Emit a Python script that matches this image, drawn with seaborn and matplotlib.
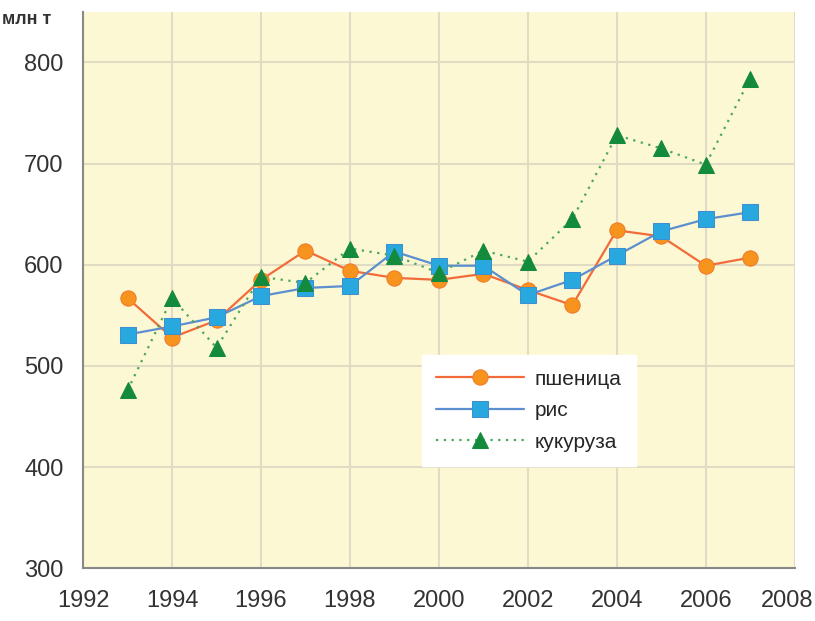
import matplotlib
matplotlib.use("Agg")
import matplotlib.pyplot as plt
import matplotlib.transforms as mtransforms
import seaborn as sns
import pandas as pd

years = list(range(1993, 2008))
wheat = [567, 528, 545, 585, 614, 594, 587, 585, 591, 575, 560, 634, 628, 599, 607]
rice = [531, 539, 548, 569, 577, 579, 613, 599, 599, 570, 585, 609, 633, 645, 652]
maize = [476, 567, 518, 588, 582, 616, 609, 592, 614, 603, 645, 728, 715, 699, 784]
labels = ["пшеница", "рис", "кукуруза"]

sns.set_style("white")
plt.rcParams["font.family"] = ["Liberation Sans Narrow", "Liberation Sans", "DejaVu Sans"]

fig = plt.figure(figsize=(8.15, 6.21), dpi=100)
ax = fig.add_axes([0.102, 0.085, 0.873, 0.896])
ax.set_facecolor("#fdf8d4")

styles = [
    dict(color="#f26b3a", marker="o", markerfacecolor="#f7941d", markeredgecolor="#f07a2a", linestyle="-", ms=11),
    dict(color="#5b8fd0", marker="s", markerfacecolor="#29a8e0", markeredgecolor="#3d8fd0", linestyle="-", ms=11),
    dict(color="#4ca75a", marker="^", markerfacecolor="#138a3c", markeredgecolor="#138a3c", linestyle=(0, (1, 2.5)), ms=12),
]
for vals, lab, st in zip([wheat, rice, maize], labels, styles):
    df = pd.DataFrame({"year": years, "value": vals})
    sns.lineplot(data=df, x="year", y="value", ax=ax, label=lab, lw=1.6, zorder=3, **st)

ax.set_xlim(1992, 2008)
ax.set_ylim(300, 850)
ax.set_xticks(range(1992, 2009, 2))
ax.set_yticks(range(300, 801, 100))
ax.grid(True, color="#e0dcc4", lw=1.5, zorder=0)
ax.set_axisbelow(True)
for s in ["top", "right"]:
    ax.spines[s].set_visible(False)
for s in ["left", "bottom"]:
    ax.spines[s].set_color("#888888")
    ax.spines[s].set_linewidth(1.5)
ax.tick_params(axis="both", length=6, width=1.5, color="#888888", labelsize=17, labelcolor="#333333", direction="out")
ax.tick_params(axis="x", pad=10)
ax.tick_params(axis="y", pad=8)
ax.set_xlabel("")
ax.set_ylabel("")

# последнюю подпись чуть левее, чтобы не обрезалась
last = ax.get_xticklabels()[-1]
last.set_transform(last.get_transform() + mtransforms.ScaledTranslation(-0.08, 0, fig.dpi_scale_trans))

fig.text(0.003, 0.968, "млн т", fontsize=13, fontweight="bold", color="#333333", ha="left", va="center")

leg = ax.legend(loc="upper left", bbox_to_anchor=(0.476, 0.383), frameon=True, fancybox=False,
                fontsize=15, handlelength=4.2, labelspacing=0.6, borderpad=0.7, borderaxespad=0,
                handletextpad=0.5)
leg.get_frame().set_facecolor("white")
leg.get_frame().set_edgecolor("white")
leg.get_frame().set_alpha(1)

fig.savefig("out.png", dpi=100)
